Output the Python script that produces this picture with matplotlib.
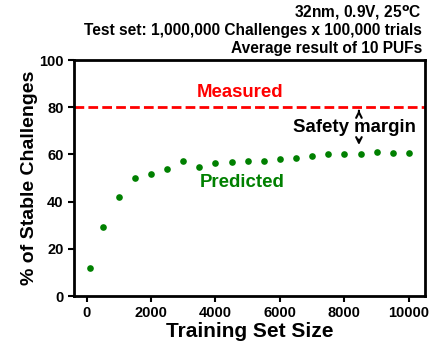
import matplotlib
matplotlib.use('Agg')
import matplotlib.pyplot as plt

plt.rcParams['font.family'] = ['Liberation Sans', 'DejaVu Sans']
plt.rcParams['font.weight'] = 'bold'

training_size = [100, 500, 1000, 1500, 2000, 2500, 3000, 3500, 4000, 4500, 5000,
                 5500, 6000, 6500, 7000, 7500, 8000, 8500, 9000, 9500, 10000]
predicted = [12, 29.4, 42.1, 50.1, 51.6, 54.0, 57.0, 54.5, 56.3, 56.6, 57.0,
             57.0, 57.9, 58.3, 59.5, 60.0, 60.0, 60.3, 61.0, 60.5, 60.5]
measured = 80
title_lines = ['32nm, 0.9V, 25$^{\\mathbf{o}}$C',
               'Test set: 1,000,000 Challenges x 100,000 trials',
               'Average result of 10 PUFs']

fig = plt.figure(figsize=(4.31, 3.47), dpi=100)
ax = fig.add_axes([74/431, 1 - 296/347, 351/431, 236/347])

ax.plot(training_size, predicted, 'o', color='#008000', markersize=4.8, markeredgewidth=0)
ax.axhline(measured, color='red', linestyle='--', linewidth=2, dashes=(3.5, 1.5))

ax.text(4760, 86.4, 'Measured', color='red', fontsize=13.4, fontweight='bold', ha='center', va='center')
ax.text(4820, 47.9, 'Predicted', color='#008000', fontsize=13.4, fontweight='bold', ha='center', va='center')
ax.text(8325, 71.4, 'Safety margin', color='black', fontsize=13.4, fontweight='bold', ha='center', va='center')
ax.annotate('', xy=(8450, 80), xytext=(8450, 77.2),
            arrowprops=dict(arrowstyle='->', color='black', lw=1.5))
ax.annotate('', xy=(8450, 62.8), xytext=(8450, 67.5),
            arrowprops=dict(arrowstyle='->', color='black', lw=1.5))

ax.set_xlim(-390, 10500)
ax.set_ylim(0, 100)
ax.set_xticks([0, 2000, 4000, 6000, 8000, 10000])
ax.set_yticks([0, 20, 40, 60, 80, 100])
ax.tick_params(labelsize=10.5, width=1.5, length=4)
for s in ax.spines.values():
    s.set_linewidth(2)
ax.set_xlabel('Training Set Size', fontsize=15, fontweight='bold', labelpad=1)
ax.set_ylabel('% of Stable Challenges', fontsize=14, fontweight='bold', labelpad=1)

for i, line in enumerate(title_lines):
    fig.text(422/431, 1 - (13 + 17.5 * i)/347, line, ha='right', va='center',
             fontsize=11.2, fontweight='bold')

fig.savefig('out.png', dpi=100)
